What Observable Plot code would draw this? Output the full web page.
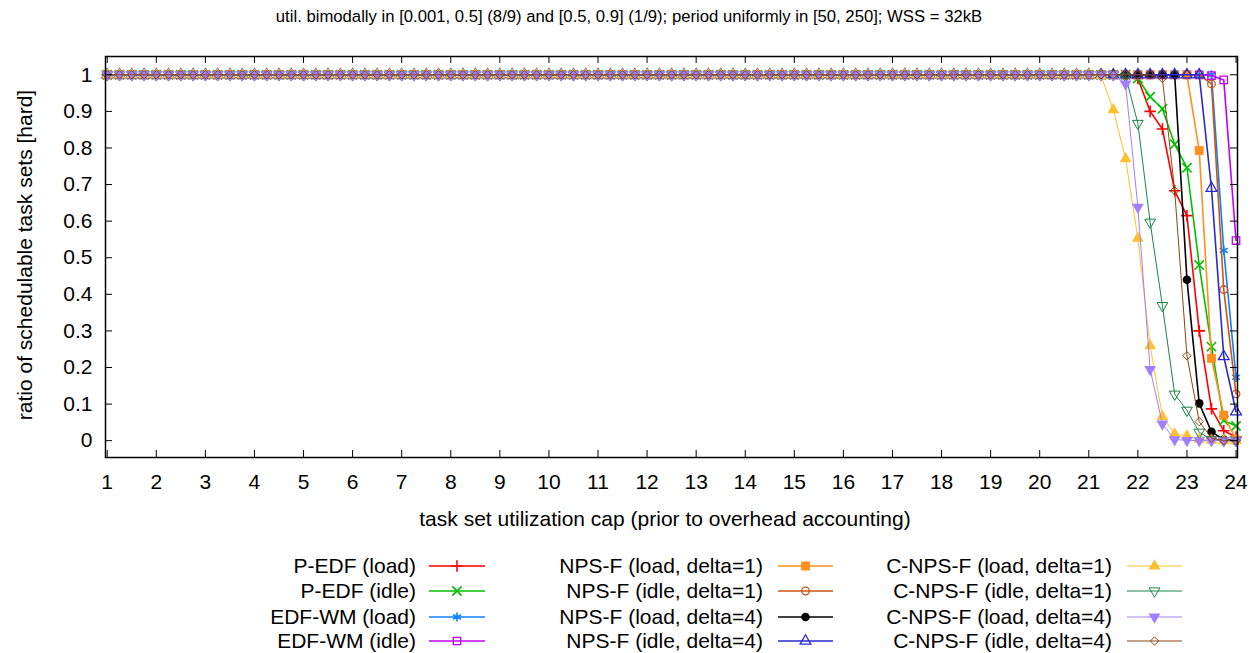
<!DOCTYPE html>
<html><head><meta charset="utf-8">
<script src="https://cdn.jsdelivr.net/npm/d3@7"></script>
<script src="https://cdn.jsdelivr.net/npm/@observablehq/plot@0.6"></script>
<style>body{margin:0;background:#fff;} #chart{width:1258px;height:653px;}</style>
</head><body><div id="chart"></div>
<script>
// ---- data ----
const title = "util. bimodally in [0.001, 0.5] (8/9) and [0.5, 0.9] (1/9); period uniformly in [50, 250]; WSS = 32kB";
const xLabel = "task set utilization cap (prior to overhead accounting)";
const yLabel = "ratio of schedulable task sets [hard]";
const xTicks = [1,2,3,4,5,6,7,8,9,10,11,12,13,14,15,16,17,18,19,20,21,22,23,24];
const yTicks = [0,0.1,0.2,0.3,0.4,0.5,0.6,0.7,0.8,0.9,1];
// sampled caps: flat part (all series schedulable = 1) and the drop-off region
const capsFlat = [1,1.25,1.5,1.75,2,2.25,2.5,2.75,3,3.25,3.5,3.75,4,4.25,4.5,4.75,5,5.25,5.5,5.75,6,6.25,6.5,6.75,7,7.25,7.5,7.75,8,8.25,8.5,8.75,9,9.25,9.5,9.75,10,10.25,10.5,10.75,11,11.25,11.5,11.75,12,12.25,12.5,12.75,13,13.25,13.5,13.75,14,14.25,14.5,14.75,15,15.25,15.5,15.75,16,16.25,16.5,16.75,17,17.25,17.5,17.75,18,18.25,18.5,18.75,19,19.25,19.5,19.75,20,20.25,20.5,20.75];
const flatValue = 1;
const capsTail = [21,21.25,21.5,21.75,22,22.25,22.5,22.75,23,23.25,23.5,23.75,24];
const pedfLoad   = [1,1,1,1,0.99,0.90,0.852,0.683,0.615,0.30,0.087,0.027,0.01];
const pedfIdle   = [1,1,1,1,0.99,0.94,0.907,0.81,0.746,0.48,0.257,0.055,0.04];
const edfwmLoad  = [1,1,1,1,1,1,1,1,1,1,1,0.52,0.173];
const edfwmIdle  = [1,1,1,1,1,1,1,1,1,1,0.998,0.986,0.547];
const npsfLoad1  = [1,1,1,1,1,1,1,1,1,0.793,0.225,0.07,0.002];
const npsfIdle1  = [1,1,1,1,1,1,1,1,1,1,0.975,0.413,0.128];
const npsfLoad4  = [1,1,1,1,1,1,1,1,0.44,0.102,0.024,0.003,0];
const npsfIdle4  = [1,1,1,1,1,1,1,1,1,1,0.69,0.23,0.079];
const cnpsfLoad1 = [1,0.997,0.904,0.77,0.553,0.259,0.066,0.018,0.013,0.004,0.001,0,0];
const cnpsfIdle1 = [1,1,1,0.996,0.867,0.597,0.369,0.127,0.083,0.023,0.003,0,0];
const cnpsfLoad4 = [1,1,1,0.975,0.638,0.195,0.046,0.003,0.001,0,0,0,0];
const cnpsfIdle4 = [1,1,1,1,1,1,0.99,0.683,0.232,0.052,0.007,0,0];
const seriesNames = ["P-EDF (load)","P-EDF (idle)","EDF-WM (load)","EDF-WM (idle)",
  "NPS-F (load, delta=1)","NPS-F (idle, delta=1)","NPS-F (load, delta=4)","NPS-F (idle, delta=4)",
  "C-NPS-F (load, delta=1)","C-NPS-F (idle, delta=1)","C-NPS-F (load, delta=4)","C-NPS-F (idle, delta=4)"];
const seriesValues = [pedfLoad,pedfIdle,edfwmLoad,edfwmIdle,npsfLoad1,npsfIdle1,npsfLoad4,npsfIdle4,cnpsfLoad1,cnpsfIdle1,cnpsfLoad4,cnpsfIdle4];

// ---- styles ----
const styles = [
  {color:"#ff0000", symbol:"plus",      filled:false, r:3.8, lw:1.6, sw:1.6},
  {color:"#00c000", symbol:"times",     filled:false, r:4.3, lw:1.6, sw:1.6},
  {color:"#0a80ff", symbol:"asterisk",  filled:false, r:4.3, lw:1.6, sw:1.6},
  {color:"#c000ff", symbol:"square",    filled:false, r:4.2, lw:1.6, sw:1.3},
  {color:"#ff9020", symbol:"square",    filled:true,  r:5.0, lw:1.6, sw:0},
  {color:"#cc5512", symbol:"circle",    filled:false, r:3.8, lw:1.6, sw:1.3},
  {color:"#000000", symbol:"circle",    filled:true,  r:4.3, lw:1.6, sw:0},
  {color:"#2a2ad0", symbol:"triangle",  filled:false, r:4.0, lw:1.6, sw:1.3},
  {color:"#ffc030", symbol:"triangle",  filled:true,  r:4.4, lw:1,   sw:0},
  {color:"#1a8448", symbol:"triangle",  filled:false, r:4.0, lw:1,   sw:1, rotate:180},
  {color:"#a080ff", symbol:"triangle",  filled:true,  r:4.4, lw:1,   sw:0, rotate:180},
  {color:"#8b4513", symbol:"diamond2",  filled:false, r:3.8, lw:1,   sw:1}
];

const W = 1258, H = 653, mL = 105, mR = 21, mT = 56, mB = 196;
const fW = W - mL - mR, fH = H - mT - mB;
const font = "'Liberation Sans', Arial, Helvetica, sans-serif";

const marks = [];
seriesValues.forEach((vals, i) => {
  const s = styles[i];
  const data = capsFlat.map(x => ({x, y: flatValue})).concat(capsTail.map((x, j) => ({x, y: vals[j]})));
  marks.push(Plot.line(data, {x: "x", y: "y", stroke: s.color, strokeWidth: s.lw}));
  marks.push(Plot.dot(data, {x: "x", y: "y", symbol: s.symbol, r: s.r,
    fill: s.filled ? s.color : "none", stroke: s.filled ? "none" : s.color,
    strokeWidth: s.sw, rotate: s.rotate || 0}));
});

const plot = Plot.plot({
  width: W, height: H, marginLeft: mL, marginRight: mR, marginTop: mT, marginBottom: mB,
  x: {domain: [0.965, 24.03]},
  y: {domain: [-0.046, 1.05]},
  style: {fontFamily: font, fontSize: "21px", color: "#000", background: "#fff"},
  marks: [
    ...marks,
    Plot.ruleX(xTicks, {x: d => d, insetTop: fH - 7, stroke: "#000", strokeWidth: 1}),
    Plot.ruleX(xTicks, {x: d => d, insetBottom: fH - 7, stroke: "#000", strokeWidth: 1}),
    Plot.ruleY(yTicks, {y: d => d, insetRight: fW - 7, stroke: "#000", strokeWidth: 1}),
    Plot.ruleY(yTicks, {y: d => d, insetLeft: fW - 7, stroke: "#000", strokeWidth: 1}),
    Plot.axisX({ticks: xTicks, tickSize: 0, tickPadding: 17, label: null, fontSize: 21, tickFormat: d => String(d)}),
    Plot.axisY({ticks: yTicks, tickSize: 0, tickPadding: 13, label: null, fontSize: 21, tickFormat: d => String(d)}),
    Plot.frame({stroke: "#000", strokeWidth: 1.5})
  ]
});

const svg = d3.select(plot);
svg.append("text").attr("x", 629).attr("y", 22).attr("text-anchor", "middle")
  .style("font-size", "16.7px").style("font-family", font).attr("fill", "#000").text(title);
svg.append("text").attr("x", 665).attr("y", 526).attr("text-anchor", "middle")
  .style("font-size", "21px").style("font-family", font).attr("fill", "#000").text(xLabel);
svg.append("text").attr("transform", "translate(32,255) rotate(-90)").attr("text-anchor", "middle")
  .style("font-size", "21px").style("font-family", font).attr("fill", "#000").text(yLabel);

// legend
const symMap = {plus: d3.symbolPlus, times: d3.symbolTimes, asterisk: d3.symbolAsterisk, square: d3.symbolSquare,
  circle: d3.symbolCircle, triangle: d3.symbolTriangle, diamond2: d3.symbolDiamond2};
const colText = [416, 763, 1112], colLine = [[429, 485], [778, 833], [1127, 1182]], rowY = [566, 591, 617, 641];
const lg = svg.append("g");
seriesNames.forEach((name, i) => {
  const c = Math.floor(i / 4), r = i % 4, s = styles[i];
  const y = rowY[r];
  lg.append("text").attr("x", colText[c]).attr("y", y + 7.3).attr("text-anchor", "end")
    .style("font-size", "21px").style("font-family", font).attr("fill", "#000").text(name);
  lg.append("line").attr("x1", colLine[c][0]).attr("x2", colLine[c][1]).attr("y1", y).attr("y2", y)
    .attr("stroke", s.color).attr("stroke-width", s.lw);
  const cx = (colLine[c][0] + colLine[c][1]) / 2;
  lg.append("path").attr("d", d3.symbol(symMap[s.symbol], s.r * s.r * Math.PI)())
    .attr("transform", `translate(${cx},${y}) rotate(${s.rotate || 0})`)
    .attr("fill", s.filled ? s.color : "none").attr("stroke", s.filled ? "none" : s.color)
    .attr("stroke-width", s.sw);
});

document.getElementById("chart").appendChild(plot);
</script>
</body></html>
